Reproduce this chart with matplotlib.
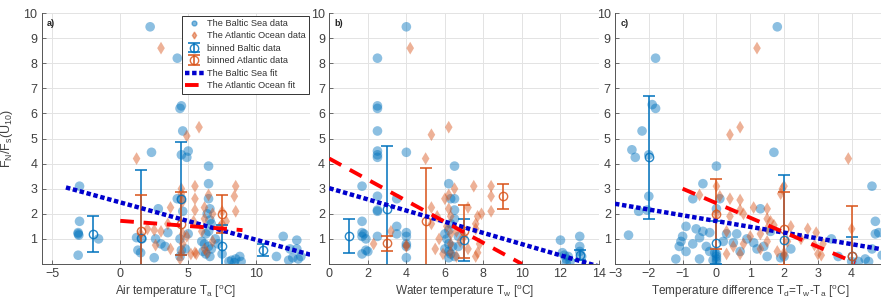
import numpy as np
import matplotlib.pyplot as plt
from matplotlib.lines import Line2D

plt.rcParams['font.family'] = ['Liberation Sans', 'DejaVu Sans']
plt.rcParams['mathtext.fontset'] = 'custom'
plt.rcParams['mathtext.rm'] = 'Liberation Sans'
plt.rcParams['mathtext.it'] = 'Liberation Sans'

# ---------------- data ----------------
# panel a: air temperature
a_baltic_x = [-3, -3, -3.1, -3.05, -3.1, -3.1, -1.6, 1.2, 1.3, 1.5, 1.6, 2.2, 2.3, 2.6, 2.8, 2.5,
              3.0, 3.3, 3.5, 4.2, 4.5, 4.4, 4.6, 4.5, 5.0, 4.9, 4.2, 4.5, 4.6, 4.4, 4.5, 4.4, 4.8,
              5.0, 6.5, 6.5, 6.5, 6.6, 6.4, 6.6, 6.7, 6.5, 6.3, 6.0, 6.2, 6.5, 6.7, 6.1, 6.3, 6.6,
              7.0, 7.2, 7.5, 8.0, 8.2, 8.5, 8.8, 8.4, 8.9, 11.5, 12.0, 12.5, 13.0, 12.7, 12.4, 13.1,
              13.3, 13.0]
a_baltic_y = [3.1, 1.7, 1.25, 1.15, 1.2, 0.35, 1.0, 1.05, 0.55, 0.45, 1.0, 9.45, 4.45, 1.0, 2.2, 0.25,
              0.8, 0.7, 1.25, 8.2, 6.3, 6.2, 5.3, 4.35, 4.5, 4.25, 2.6, 2.6, 2.1, 1.0, 0.55, 0.3, 0.6,
              1.2, 3.9, 3.2, 2.6, 2.2, 2.0, 1.75, 1.6, 1.3, 1.2, 0.9, 0.8, 0.7, 0.6, 0.5, 0.4, 0.3,
              1.0, 0.8, 0.4, 0.1, 0.15, 0.2, 0.3, 0.05, 0.1, 0.3, 1.1, 0.6, 0.95, 0.25, 0.15, 0.2,
              0.3, 0.6]
a_atl_x = [3.0, 1.2, 5.8, 4.9, 4.5, 4.5, 4.6, 5.5, 5.5, 5.5, 5.4, 5.6, 5.5, 4.5, 4.4, 4.6, 3.7, 3.5,
           3.7, 2.5, 2.6, 1.5, 6.5, 6.2, 6.2, 6.8, 6.2, 6.0, 7.5, 8.5, 8.4, 8.5, 7.5, 7.8, 7.3, 4.6,
           4.9, 5.2, 3.0, 2.0, 6.4, 6.8]
a_atl_y = [8.6, 4.2, 5.45, 5.1, 3.0, 2.8, 2.5, 3.1, 2.6, 2.15, 1.7, 0.4, 0.45, 0.45, 0.2, 0.8, 2.25, 1.6,
           0.6, 1.35, 0.75, 1.2, 2.75, 2.25, 1.8, 2.0, 0.6, 1.3, 1.6, 3.1, 2.7, 2.1, 2.1, 1.7, 1.45, 1.2,
           1.1, 0.4, 1.3, 1.4, 0.45, 0.9]
a_bin_baltic = ([-2, 1.5, 4.5, 7.5, 10.5], [1.2, 1.05, 2.6, 0.7, 0.56], [0.73, 2.7, 2.25, 0.85, 0.25])
a_bin_atl = ([1.5, 4.5, 7.5], [1.3, 1.6, 2.0], [1.45, 1.25, 0.75])
a_fit_baltic = ([-4, 14], [3.05, 0.37])
a_fit_atl = ([0, 9], [1.72, 1.35])

# panel b: water temperature
b_baltic_x = [4, 2.5, 2.5, 2.5, 2.5, 2.5, 2.5, 2.5, 4, 1.7, 2.5, 2.5, 2.5, 2.5, 1.7, 1.7, 1.8, 1.7,
              1.9, 1.9, 1.7, 2.0, 3.5, 3.5, 3.5, 4, 4, 4, 4, 4, 6.2, 6.5, 6.3, 6.5, 6.5, 6.5, 6.3, 6.2,
              6.0, 6.1, 6.2, 6.4, 6.0, 6.2, 6.3, 6.5, 6.2, 6.7, 6.7, 12.0, 12.1, 12.2, 12.3, 12.4,
              12.5, 12.3, 13.0, 13.0, 13.0, 13.1]
b_baltic_y = [9.45, 8.2, 6.3, 6.2, 5.3, 4.5, 4.35, 4.25, 4.45, 3.1, 2.7, 2.15, 2.1, 1.1, 1.7, 1.25, 1.2,
              1.1, 1.0, 0.55, 0.4, 0.5, 2.6, 1.5, 1.2, 1.25, 1.1, 0.8, 0.7, 0.25, 3.2, 3.9, 2.6, 2.6,
              2.15, 1.8, 1.6, 1.35, 1.2, 1.0, 0.8, 0.7, 0.6, 0.5, 0.4, 0.3, 0.25, 0.7, 1.1, 0.95, 0.45,
              0.35, 0.2, 0.3, 0.1, 0.05, 1.1, 0.7, 0.5, 0.3]
b_atl_x = [4.2, 6.2, 5.3, 5.0, 5.3, 5.3, 5.5, 5.9, 6.0, 6.2, 6.2, 6.5, 6.3, 6.1, 6.3, 6.6, 6.3, 6.3,
           6.6, 7.2, 7.2, 7.5, 7.6, 7.6, 7.7, 7.9, 7.8, 7.6, 7.7, 8.4, 8.4, 8.4, 2.3, 3.2, 4.0, 5.7,
           6.8, 4.0, 7.0, 5.6]
b_atl_y = [8.6, 5.45, 5.15, 4.2, 2.25, 1.6, 0.6, 0.4, 2.6, 2.75, 2.2, 3.0, 1.9, 1.5, 1.2, 1.3, 0.8, 0.45,
           0.3, 2.25, 0.6, 3.1, 1.6, 1.4, 1.9, 2.0, 0.8, 0.3, 0.45, 3.1, 2.7, 2.1, 0.8, 1.3, 0.75, 1.0,
           0.9, 0.7, 1.1, 1.9]
b_bin_baltic = ([1, 3, 7, 13], [1.1, 2.2, 0.95, 0.35], [0.68, 2.5, 0.85, 0.2])
b_bin_atl = ([3, 5, 7, 9], [0.83, 1.7, 1.3, 2.7], [0.3, 2.12, 1.07, 0.5])
b_fit_baltic = ([0, 14], [3.02, -0.1])
b_fit_atl = ([0, 10], [4.2, 0.0])

# panel c: temperature difference
c_baltic_x = [1.8, -1.8, -1.9, -1.8, -2.2, -2.5, -2.4, -2.0, -2.0, -2.3, -2.05, -2.6, 1.7, 0.0, -0.4,
              -0.7, 0.0, 0.1, -0.9, -0.6, -0.4, -0.2, -0.5, -1.0, -1.05, -1.1, -0.9, -0.7, -0.3, -0.2,
              0.0, 0.0, 0.0, 0.0, -0.5, -1.2, 0.2, 0.3, 0.5, 0.6, 0.7, 0.9, 1.1, 1.3, 1.4, 1.2, 1.5,
              1.6, 2.2, 1.9, 2.0, 3.4, 3.6, 4.0, 4.2, 4.4, 4.5, 4.6, 4.7, 4.8, 4.7, 4.9, 5.0, 4.6,
              -0.1, -0.05]
c_baltic_y = [9.45, 8.2, 6.35, 6.2, 5.3, 4.55, 4.25, 4.35, 2.7, 2.1, 2.15, 1.15, 4.45, 3.9, 3.2, 2.6,
              2.2, 2.6, 1.5, 1.4, 1.3, 1.25, 1.05, 1.1, 0.9, 0.7, 0.5, 0.8, 0.7, 0.5, 0.4, 0.3, 0.2,
              0.1, 0.2, 0.2, 0.9, 1.2, 0.85, 1.2, 0.5, 1.0, 0.85, 2.2, 0.7, 0.6, 0.3, 1.3, 0.6, 0.25,
              0.3, 1.0, 0.3, 0.1, 0.1, 0.2, 0.1, 3.1, 1.7, 1.25, 1.2, 0.35, 1.1, 0.6, 0.15, 0.45]
c_atl_x = [1.2, 0.4, 0.7, 3.9, -0.5, 0.0, 0.1, 0.4, 0.4, 0.7, 0.7, 0.8, 1.1, 1.5, 1.5, 1.6, 1.7, 1.9,
           1.95, 2.0, 2.2, 1.3, 1.0, 1.5, 0.8, 0.5, 0.3, 0.7, 1.3, 1.5, 2.0, 2.0, 2.7, 2.95, 2.9,
           3.0, 3.1, 4.0, 0.3, 1.8, 2.1, 2.5, 0.0, 3.15]
c_atl_y = [8.6, 5.15, 5.45, 4.2, 2.75, 3.1, 2.7, 2.6, 1.9, 2.55, 2.15, 2.0, 2.25, 2.2, 1.8, 1.7, 1.55,
           2.8, 3.0, 3.1, 1.5, 1.2, 1.1, 1.4, 0.8, 0.7, 0.4, 0.4, 0.6, 0.9, 0.45, 0.35, 1.4, 1.25,
           0.75, 0.4, 0.35, 1.4, 1.3, 0.5, 0.9, 1.0, 2.0, 0.8]
c_bin_baltic = ([-2, 0, 2, 4], [4.25, 0.85, 0.95, 0.3], [2.45, 0.85, 2.6, 0.77])
c_bin_atl = ([0, 2, 4], [2.0, 1.4, 0.3], [1.4, 1.45, 2.0])
c_fit_baltic = ([-3, 5], [2.4, 0.56])
c_fit_atl = ([-1, 4.1], [3.0, 0.05])

panels = [
    dict(tag='a)', xlabel='Air temperature T$_\\mathregular{a}$ [$^\\mathregular{o}$C]',
         xlim=(-5.8, 14), xticks=[-5, 0, 5, 10],
         bx=a_baltic_x, by=a_baltic_y, ax_=a_atl_x, ay=a_atl_y,
         bb=a_bin_baltic, ba=a_bin_atl, fb=a_fit_baltic, fa=a_fit_atl,
         rect=[41.5, 310.4]),
    dict(tag='b)', xlabel='Water temperature T$_\\mathregular{w}$ [$^\\mathregular{o}$C]',
         xlim=(0, 14), xticks=list(range(0, 15, 2)),
         bx=b_baltic_x, by=b_baltic_y, ax_=b_atl_x, ay=b_atl_y,
         bb=b_bin_baltic, ba=b_bin_atl, fb=b_fit_baltic, fa=b_fit_atl,
         rect=[329.3, 599.0]),
    dict(tag='c)', xlabel='Temperature difference T$_\\mathregular{d}$=T$_\\mathregular{w}$-T$_\\mathregular{a}$ [$^\\mathregular{o}$C]',
         xlim=(-3, 5), xticks=list(range(-3, 5)),
         bx=c_baltic_x, by=c_baltic_y, ax_=c_atl_x, ay=c_atl_y,
         bb=c_bin_baltic, ba=c_bin_atl, fb=c_fit_baltic, fa=c_fit_atl,
         rect=[615.0, 885.5]),
]

W, H = 881, 301
fig = plt.figure(figsize=(W / 100, H / 100), dpi=100)

blue = '#0072BD'
orange = '#D95319'

for i, p in enumerate(panels):
    x0, x1 = p['rect']
    ax = fig.add_axes([x0 / W, (H - 264) / H, (x1 - x0) / W, 251 / H])
    ax.set_xlim(*p['xlim'])
    ax.set_ylim(0, 10)
    ax.set_xticks(p['xticks'])
    ax.set_yticks(range(1, 11))
    ax.grid(True, color='#e3e3e3', lw=0.7)
    ax.set_axisbelow(True)
    for s in ['top', 'right']:
        ax.spines[s].set_visible(False)
    for s in ['left', 'bottom']:
        ax.spines[s].set_color('#555555')
        ax.spines[s].set_linewidth(0.7)
    ax.tick_params(direction='in', length=3, width=0.6, colors='#555555',
                   labelcolor='#404040', labelsize=9, pad=3)

    ax.scatter(p['bx'], p['by'], s=48, marker='o', color=blue, alpha=0.45,
               edgecolors='none', zorder=2, label='The Baltic Sea data')
    ax.scatter(p['ax_'], p['ay'], s=42, marker='d', color=orange, alpha=0.45,
               edgecolors='none', zorder=2, label='The Atlantic Ocean data')

    bx, bm, be = p['bb']
    ax.errorbar(bx, bm, yerr=be, fmt='o', mfc='none', mec=blue, color=blue, ms=6,
                elinewidth=1.3, capsize=4.5, capthick=1.3, alpha=0.85, zorder=3,
                label='binned Baltic data')
    ox, om, oe = p['ba']
    ax.errorbar(ox, om, yerr=oe, fmt='o', mfc='none', mec=orange, color=orange, ms=6,
                elinewidth=1.3, capsize=4.5, capthick=1.3, alpha=0.85, zorder=3,
                label='binned Atlantic data')

    ax.plot(p['fb'][0], p['fb'][1], ls=(0, (1, 0.6)), color='#0000CD', lw=3.2, zorder=4,
            label='The Baltic Sea fit')
    ax.plot(p['fa'][0], p['fa'][1], ls=(0, (3.5, 2.5)), color='#FF0000', lw=2.8, zorder=4,
            label='The Atlantic Ocean fit')

    ax.text(0.02, 0.975, p['tag'], transform=ax.transAxes, fontsize=6.5,
            fontweight='bold', va='top', ha='left', color='#222222')
    ax.set_xlabel(p['xlabel'], fontsize=8.5, color='#404040', labelpad=2)

    if i == 0:
        ax.set_ylabel('F$_\\mathregular{N}$/F$_\\mathregular{s}$(U$_\\mathregular{10}$)',
                      fontsize=9, color='#404040', labelpad=6)
        handles = [
            Line2D([], [], ls='none', marker='o', ms=3.5, color=blue, alpha=0.5),
            Line2D([], [], ls='none', marker='d', ms=3.5, color=orange, alpha=0.5),
        ]
        h, l = ax.get_legend_handles_labels()
        hd = dict(zip(l, h))
        handles += [hd['binned Baltic data'], hd['binned Atlantic data'],
                    hd['The Baltic Sea fit'], hd['The Atlantic Ocean fit']]
        labels = ['The Baltic Sea data', 'The Atlantic Ocean data', 'binned Baltic data',
                  'binned Atlantic data', 'The Baltic Sea fit', 'The Atlantic Ocean fit']
        leg = ax.legend(handles, labels, loc='upper right', bbox_to_anchor=(0.993, 0.99),
                        fontsize=6.7, frameon=True, fancybox=False, framealpha=1,
                        borderaxespad=0, labelspacing=0.38, handlelength=2.0,
                        handletextpad=0.3, borderpad=0.35)
        leg.get_frame().set_edgecolor('#333333')
        leg.get_frame().set_linewidth(0.7)
        for t in leg.get_texts():
            t.set_color('#333333')

fig.savefig('out.png', dpi=100)
